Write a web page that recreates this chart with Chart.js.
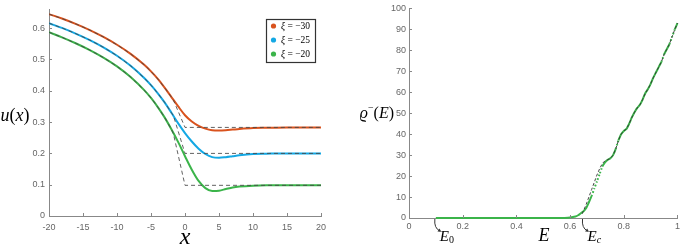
<!DOCTYPE html>
<html lang="en">
<head>
<meta charset="UTF-8" />
<title>u(x) and spectral density</title>
<script src="https://cdn.jsdelivr.net/npm/chart.js"></script>
<style>
  body { margin: 0; background: #fff; }
  .box { position: absolute; top: 0; }
  #left { left: 0; width: 340px; height: 246px; }
  #right { left: 340px; width: 343px; height: 246px; }
</style>
</head>
<body>
<div class="box" id="left"><canvas id="chartU" width="340" height="246"></canvas></div>
<div class="box" id="right"><canvas id="chartRho" width="343" height="246"></canvas></div>
<script>
// ---- left panel: u(x) for three values of xi ----
const xs      = [-20, -18, -16, -14, -12, -10, -8, -6, -5, -4, -3, -2, -1, 0, 1, 2, 3, 4, 5, 6, 7, 8, 10, 12, 15, 20];
const xiNames = ['−30', '−25', '−20'];
const uRed    = [.645, .630, .613, .594, .572, .547, .518, .483, .462, .438, .410, .380, .350, .322, .302, .288, .279, .274, .273, .274, .276, .278, .281, .282, .283, .283];
const uBlue   = [.616, .600, .582, .562, .539, .512, .480, .441, .418, .392, .363, .330, .296, .265, .238, .215, .198, .188, .186, .188, .191, .194, .198, .199, .200, .200];
const uGreen  = [.587, .570, .551, .530, .506, .478, .444, .402, .377, .348, .315, .277, .236, .191, .148, .112, .089, .080, .081, .086, .091, .094, .097, .098, .098, .098];
const curveColors = ['#d9531e', '#14a8e4', '#3bb44a'];

// step-like approximations (dashed)
const dashX     = [-20, -18, -16, -14, -12, -10, -8, -6, -5, -4, -3, -2, -1.7, 0, 20];
const dashRed   = [.645, .630, .613, .594, .572, .547, .518, .483, .462, .438, .410, .380, .370, .283, .283];
const dashBlue  = [.616, .600, .582, .562, .539, .512, .480, .441, .418, .392, .363, .330, .320, .200, .200];
const dashGreen = [.587, .570, .551, .530, .506, .478, .444, .402, .377, .348, .315, .277, .262, .098, .098];

// ---- right panel: rho^-(E) ----
const eVals   = [0.1, 0.2, 0.3, 0.4, 0.5, 0.55, 0.58, 0.6, 0.62, 0.63, 0.64, 0.65, 0.66, 0.67, 0.68, 0.69, 0.70, 0.71, 0.72, 0.73, 0.74, 0.75, 0.76, 0.77, 0.78, 0.79, 0.80, 0.81, 0.82, 0.83, 0.84, 0.85, 0.86, 0.87, 0.88, 0.89, 0.90, 0.91, 0.92, 0.93, 0.94, 0.95, 0.96, 0.97, 0.98, 0.99, 1.0];
const rhoVals = [0, 0, 0, 0, 0, 0, 0.05, 0.2, 0.7, 1.3, 2.3, 3.2, 4.8, 7.5, 10.5, 14, 17.5, 21, 24.5, 26.5, 27.8, 28.5, 30, 33, 37, 40, 41.5, 42.5, 45, 48, 50.5, 52.5, 54, 56.5, 59.5, 61.5, 64, 67, 69.5, 72, 74.5, 78, 80.5, 83, 86.5, 90, 93];
const fitE    = [0.645, 0.66, 0.67, 0.68, 0.69, 0.70, 0.71, 0.72, 0.73, 0.74, 0.75, 0.76, 0.77, 0.78, 0.79, 0.80, 0.81, 0.82, 0.83, 0.84, 0.85, 0.86, 0.87, 0.88, 0.89, 0.90, 0.91, 0.92, 0.93, 0.94, 0.95, 0.96, 0.97, 0.98, 0.99, 1.0];
const fitRho  = [2, 6.5, 10, 13.5, 17, 20.5, 23.5, 26, 27.3, 27.8, 28.5, 30, 33, 37, 40, 41.5, 42.5, 45, 48, 50.5, 52.5, 54, 56.5, 59.5, 61.5, 64, 67, 69.5, 72, 74.5, 78, 80.5, 83, 86.5, 90, 93];
const markE     = [0.1, 0.65];
const markNames = ['0', 'c'];

const pts = (a, b) => a.map((v, i) => ({ x: v, y: b[i] }));
const SERIF = "'Liberation Serif', 'DejaVu Serif', serif";
const AXIS = '#888';
const tickFont = { family: "'Liberation Sans', Arial, sans-serif", size: 9 };

function drawRuns(ctx, x, y, runs, align) {
  let w = 0;
  runs.forEach(r => { ctx.font = r.f; w += ctx.measureText(r.t).width; });
  let cx = align === 'center' ? x - w / 2 : align === 'right' ? x - w : x;
  runs.forEach(r => {
    ctx.font = r.f;
    ctx.fillText(r.t, cx, y + (r.dy || 0));
    cx += ctx.measureText(r.t).width;
  });
}

// ticks pointing into the plot, like matlab
const innerTicks = {
  id: 'innerTicks',
  afterDraw(chart) {
    const ctx = chart.ctx, a = chart.chartArea;
    ctx.save();
    ctx.strokeStyle = AXIS;
    ctx.lineWidth = 1;
    chart.scales.x.ticks.forEach(t => {
      const p = Math.round(chart.scales.x.getPixelForValue(t.value)) + 0.5;
      ctx.beginPath(); ctx.moveTo(p, a.bottom); ctx.lineTo(p, a.bottom - 3); ctx.stroke();
    });
    chart.scales.y.ticks.forEach(t => {
      const p = Math.round(chart.scales.y.getPixelForValue(t.value)) + 0.5;
      ctx.beginPath(); ctx.moveTo(a.left, p); ctx.lineTo(a.left + 3, p); ctx.stroke();
    });
    ctx.restore();
  }
};

const leftLabels = {
  id: 'leftLabels',
  afterDraw(chart) {
    const ctx = chart.ctx;
    ctx.save();
    ctx.fillStyle = '#000';
    ctx.textBaseline = 'alphabetic';
    drawRuns(ctx, 15, 121, [
      { t: 'u', f: 'italic 18px ' + SERIF },
      { t: '(', f: '18px ' + SERIF },
      { t: 'x', f: 'italic 18px ' + SERIF },
      { t: ')', f: '18px ' + SERIF }
    ], 'center');
    drawRuns(ctx, 185, 244, [{ t: 'x', f: 'italic 24px ' + SERIF }], 'center');

    // legend box
    ctx.fillStyle = '#fff';
    ctx.fillRect(266.5, 19.5, 49, 43);
    ctx.strokeStyle = '#333';
    ctx.lineWidth = 1.2;
    ctx.strokeRect(266.5, 19.5, 49, 43);
    xiNames.forEach((n, i) => {
      const y = 26 + i * 14;
      ctx.fillStyle = curveColors[i];
      ctx.beginPath(); ctx.arc(273.5, y, 2.6, 0, Math.PI * 2); ctx.fill();
      ctx.fillStyle = '#000';
      drawRuns(ctx, 281, y + 3, [
        { t: 'ξ', f: 'italic 9.5px ' + SERIF },
        { t: ' = ' + n, f: '9.5px ' + SERIF }
      ], 'left');
    });
    ctx.restore();
  }
};

const rightLabels = {
  id: 'rightLabels',
  afterDraw(chart) {
    const ctx = chart.ctx, xs_ = chart.scales.x, ys_ = chart.scales.y;
    ctx.save();
    ctx.fillStyle = '#000';
    drawRuns(ctx, 204, 241, [{ t: 'E', f: 'italic 18px ' + SERIF }], 'center');
    drawRuns(ctx, 54, 118, [
      { t: 'ϱ', f: 'italic 16px ' + SERIF },
      { t: '−', f: '10px ' + SERIF, dy: -7 },
      { t: '(', f: '16px ' + SERIF },
      { t: 'E', f: 'italic 16px ' + SERIF },
      { t: ')', f: '16px ' + SERIF }
    ], 'right');

    // curved arrows to E_0 and E_c
    ctx.strokeStyle = '#333';
    ctx.fillStyle = '#333';
    ctx.lineWidth = 1;
    markE.forEach((e, i) => {
      const px = xs_.getPixelForValue(e) - 1, py = ys_.getPixelForValue(0) + 1;
      ctx.beginPath();
      ctx.moveTo(px, py);
      ctx.quadraticCurveTo(px - 1, py + 9, px + 5, py + 12);
      ctx.stroke();
      ctx.beginPath();
      ctx.moveTo(px + 6.5, py + 12.8);
      ctx.lineTo(px + 2.6, py + 12.6);
      ctx.lineTo(px + 4.6, py + 9.6);
      ctx.closePath();
      ctx.fill();
      ctx.fillStyle = '#000';
      drawRuns(ctx, px + 5, py + 22, [
        { t: 'E', f: 'italic 15px ' + SERIF },
        { t: markNames[i], f: (markNames[i] === 'c' ? 'italic ' : '') + '10px ' + SERIF, dy: 2 }
      ], 'left');
      ctx.fillStyle = '#333';
    });
    ctx.restore();
  }
};

function baseScale(extra) {
  return Object.assign({
    type: 'linear',
    grid: { display: false, drawTicks: false },
    border: { display: true, color: AXIS, width: 1 },
    ticks: { font: tickFont, color: '#666' }
  }, extra);
}

const dashStyle = { borderColor: 'rgba(70,70,70,0.85)', borderWidth: 1, borderDash: [4, 3], pointRadius: 0, tension: 0, order: 0 };

new Chart(document.getElementById('chartU'), {
  type: 'line',
  data: {
    datasets: [
      Object.assign({ data: pts(dashX, dashRed) }, dashStyle),
      Object.assign({ data: pts(dashX, dashBlue) }, dashStyle),
      Object.assign({ data: pts(dashX, dashGreen) }, dashStyle),
      ...[uRed, uBlue, uGreen].map((u, i) => ({
        label: 'ξ = ' + xiNames[i],
        data: pts(xs, u),
        borderColor: curveColors[i],
        borderWidth: 2,
        pointRadius: 0,
        cubicInterpolationMode: 'monotone',
        order: 1
      }))
    ]
  },
  options: {
    responsive: false,
    animation: false,
    devicePixelRatio: 1,
    layout: { padding: { top: 0, right: 19, bottom: 0, left: 0 } },
    plugins: { legend: { display: false }, tooltip: { enabled: false } },
    scales: {
      x: baseScale({
        min: -20, max: 20,
        ticks: { font: tickFont, color: '#666', stepSize: 5, padding: 6, maxRotation: 0 },
        afterFit: s => { s.height = 30; }
      }),
      y: baseScale({
        min: 0, max: 0.66,
        ticks: { font: tickFont, color: '#666', stepSize: 0.1, padding: 4, callback: v => String(+v.toFixed(1)) },
        afterBuildTicks: s => { s.ticks = s.ticks.filter(t => Math.abs(t.value * 10 - Math.round(t.value * 10)) < 1e-6); },
        afterFit: s => { s.width = 49; }
      })
    }
  },
  plugins: [innerTicks, leftLabels]
});

new Chart(document.getElementById('chartRho'), {
  type: 'line',
  data: {
    datasets: [
      { data: pts(fitE, fitRho), borderColor: 'rgba(50,50,50,0.9)', borderWidth: 1, borderDash: [3, 2], pointRadius: 0, tension: 0, order: 0, clip: false },
      {
        data: pts(eVals, rhoVals),
        borderColor: '#3bb44a',
        borderWidth: 2,
        pointRadius: 0,
        tension: 0.2,
        order: 1,
        clip: false,
        segment: { borderDash: c => Math.abs(c.p1.parsed.y - c.p0.parsed.y) > 3 ? [1.5, 2] : undefined }
      }
    ]
  },
  options: {
    responsive: false,
    animation: false,
    devicePixelRatio: 1,
    layout: { padding: { top: 4, right: 3, bottom: 0, left: 0 } },
    plugins: { legend: { display: false }, tooltip: { enabled: false } },
    scales: {
      x: baseScale({
        min: 0, max: 1,
        ticks: { font: tickFont, color: '#666', stepSize: 0.2, padding: 3, maxRotation: 0, callback: v => String(+v.toFixed(1)) },
        afterFit: s => { s.height = 28; }
      }),
      y: baseScale({
        min: 0, max: 100,
        ticks: { font: tickFont, color: '#666', stepSize: 10, padding: 3 },
        afterFit: s => { s.width = 69; }
      })
    }
  },
  plugins: [innerTicks, rightLabels]
});
</script>
</body>
</html>
